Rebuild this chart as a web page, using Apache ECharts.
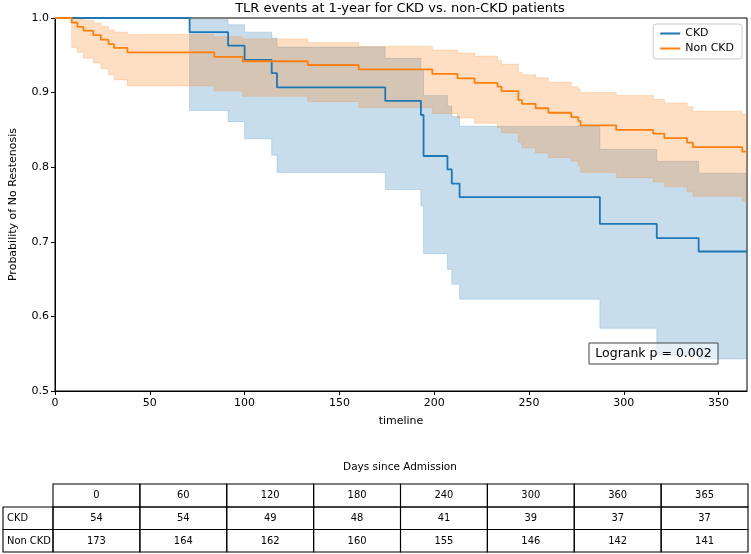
<!DOCTYPE html>
<html><head><meta charset="utf-8">
<script src="https://cdn.jsdelivr.net/npm/echarts@6/dist/echarts.min.js"></script>
<style>html,body{margin:0;padding:0;background:#fff}#c{width:751px;height:554px}</style>
</head><body><div id="c"></div>
<script>
// ---- data ----
const titleText = 'TLR events at 1-year for CKD vs. non-CKD patients';
const xTicks = [0, 50, 100, 150, 200, 250, 300, 350];
const yTicks = [0.5, 0.6, 0.7, 0.8, 0.9, 1.0];

const ckdTimes = [0, 71, 91.3, 100, 114.3, 117.1, 174.2, 193, 194.4, 207, 209.3, 213.4, 287.4, 317.4, 339.5, 365];
const ckdSurv  = [1, 0.981, 0.963, 0.944, 0.926, 0.907, 0.889, 0.870, 0.815, 0.797, 0.778, 0.760, 0.724, 0.705, 0.687, 0.687];
const ckdLower = [1, 0.876, 0.861, 0.838, 0.816, 0.793, 0.770, 0.748, 0.684, 0.663, 0.643, 0.623, 0.584, 0.548, 0.543, 0.543];
const ckdUpper = [1, 0.998, 0.991, 0.981, 0.973, 0.961, 0.946, 0.930, 0.896, 0.882, 0.868, 0.855, 0.824, 0.808, 0.792, 0.792];

const ncTimes = [0, 8.8, 11.8, 15, 20.2, 24.2, 28.2, 31.1, 38.2, 84, 99, 133.3, 160.2, 199, 212.3, 221.3, 233.4, 235.5, 244.4, 246.3, 253.5, 260.2, 272.3, 276, 277.2, 296, 315.5, 321.4, 333.4, 336.5, 362.5, 365];
const ncSurv  = [1, 0.994, 0.988, 0.983, 0.977, 0.971, 0.965, 0.960, 0.954, 0.948, 0.942, 0.937, 0.931, 0.925, 0.919, 0.913, 0.908, 0.902, 0.890, 0.885, 0.879, 0.873, 0.867, 0.862, 0.856, 0.850, 0.845, 0.839, 0.833, 0.827, 0.821, 0.821];
const ncUpper = [1, 0.999, 0.998, 0.997, 0.993, 0.989, 0.984, 0.981, 0.978, 0.975, 0.972, 0.967, 0.962, 0.957, 0.953, 0.949, 0.943, 0.938, 0.927, 0.924, 0.920, 0.914, 0.908, 0.904, 0.900, 0.896, 0.891, 0.886, 0.881, 0.875, 0.871, 0.871];
const ncLower = [1, 0.960, 0.954, 0.946, 0.940, 0.932, 0.924, 0.917, 0.909, 0.902, 0.895, 0.888, 0.880, 0.872, 0.866, 0.859, 0.853, 0.846, 0.833, 0.826, 0.819, 0.813, 0.808, 0.802, 0.793, 0.786, 0.780, 0.774, 0.767, 0.761, 0.754, 0.754];

const logrankText = 'Logrank p = 0.002';
const tableTitle = 'Days since Admission';
const tableDays = [0, 60, 120, 180, 240, 300, 360, 365];
const tableRowLabels = ['CKD', 'Non CKD'];
const ckdAtRisk = [54, 54, 49, 48, 41, 39, 37, 37];
const nonCkdAtRisk = [173, 164, 162, 160, 155, 146, 142, 141];

// ---- chart ----
const FONT = 'DejaVu Sans';
const TFONT = '"DejaVu Sans Condensed", "Liberation Sans Narrow", "DejaVu Sans"';
const BLUE = '#1f77b4', ORANGE = '#ff7f0e';
const chart = echarts.init(document.getElementById('c'), null, {renderer: 'canvas'});

function pairs(t, v) { return t.map((x, i) => [x, v[i]]); }

function bandSeries(name, times, lower, upper, color) {
  return {
    type: 'custom', name: name, coordinateSystem: 'cartesian2d', silent: true, clip: true,
    data: [[times[0], upper[0]]],
    encode: {x: 0, y: 1},
    renderItem: function (params, api) {
      const top = [], bot = [];
      for (let i = 0; i < times.length; i++) {
        top.push(api.coord([times[i], upper[i]]));
        bot.push(api.coord([times[i], lower[i]]));
        if (i < times.length - 1) {
          top.push(api.coord([times[i + 1], upper[i]]));
          bot.push(api.coord([times[i + 1], lower[i]]));
        }
      }
      return {type: 'polygon', shape: {points: top.concat(bot.reverse())},
        style: {fill: color, stroke: color, lineWidth: 0.8}};
    }
  };
}

function lineSeries(name, times, vals, color) {
  return {type: 'line', name: name, step: 'end', showSymbol: false, silent: true,
    data: pairs(times, vals), lineStyle: {color: color, width: 1.8}, itemStyle: {color: color}};
}

// table graphics
const tblLeft = 3, tblLabelRight = 53, tblRight = 748;
const rowTops = [484, 507, 529.5, 552];
const colW = (tblRight - tblLabelRight) / tableDays.length;
const tblGraphics = [];
const cellStroke = {fill: 'none', stroke: '#000', lineWidth: 1.1};
function cellText(txt, x, y, align, fam, size) {
  tblGraphics.push({type: 'text', x: x, y: y, silent: true,
    style: {text: String(txt), align: align, verticalAlign: 'middle', fontSize: size || 11, fontFamily: fam || TFONT, fill: '#000'}});
}
tableDays.forEach((d, j) => {
  const x = tblLabelRight + j * colW;
  tblGraphics.push({type: 'rect', silent: true, shape: {x: x, y: rowTops[0], width: colW, height: rowTops[1] - rowTops[0]}, style: cellStroke});
  cellText(d, x + colW / 2, (rowTops[0] + rowTops[1]) / 2, 'center');
});
[ckdAtRisk, nonCkdAtRisk].forEach((row, r) => {
  const y0 = rowTops[r + 1], y1 = rowTops[r + 2];
  tblGraphics.push({type: 'rect', silent: true, shape: {x: tblLeft, y: y0, width: tblLabelRight - tblLeft, height: y1 - y0}, style: cellStroke});
  cellText(tableRowLabels[r], tblLeft + 4, (y0 + y1) / 2, 'left');
  row.forEach((v, j) => {
    const x = tblLabelRight + j * colW;
    tblGraphics.push({type: 'rect', silent: true, shape: {x: x, y: y0, width: colW, height: y1 - y0}, style: cellStroke});
    cellText(v, x + colW / 2, (y0 + y1) / 2, 'center');
  });
});
cellText(tableTitle, 400, 467, 'center', FONT, 10.5);

const option = {
  animation: false,
  backgroundColor: '#fff',
  title: {text: titleText, left: 400, top: 2, padding: 0, textAlign: 'center',
    textStyle: {fontFamily: FONT, fontSize: 13, fontWeight: 'normal', color: '#000'}},
  legend: {data: ['CKD', 'Non CKD'], orient: 'vertical', right: 9, top: 24, icon: 'rect',
    itemWidth: 20, itemHeight: 2, itemGap: 4, padding: [4, 8, 5, 7], selectedMode: false,
    borderColor: '#ccc', borderWidth: 1, borderRadius: 3, backgroundColor: 'rgba(255,255,255,0.8)',
    textStyle: {fontFamily: FONT, fontSize: 11, color: '#000'}},
  grid: {left: 53, right: 4, top: 18, bottom: 163, show: true, borderColor: '#000', borderWidth: 1, backgroundColor: 'transparent'},
  xAxis: {type: 'value', min: 0, max: 365, interval: 50,
    name: 'timeline', nameLocation: 'middle', nameGap: 25,
    nameTextStyle: {fontFamily: FONT, fontSize: 11, color: '#000'},
    axisLine: {onZero: false, lineStyle: {color: '#000', width: 1}},
    axisTick: {length: 4, lineStyle: {color: '#000'}, customValues: xTicks},
    axisLabel: {fontFamily: FONT, fontSize: 11, color: '#000', margin: 7, customValues: xTicks},
    splitLine: {show: false}},
  yAxis: {type: 'value', min: 0.5, max: 1.0, interval: 0.1,
    name: 'Probability of No Restenosis', nameLocation: 'middle', nameGap: 36,
    nameTextStyle: {fontFamily: FONT, fontSize: 11, color: '#000'},
    axisLine: {onZero: false, lineStyle: {color: '#000', width: 1}},
    axisTick: {length: 4, lineStyle: {color: '#000'}, customValues: yTicks},
    axisLabel: {fontFamily: FONT, fontSize: 11, color: '#000', margin: 6, customValues: yTicks,
      formatter: v => Number(v).toFixed(1)},
    splitLine: {show: false}},
  series: [
    bandSeries('CKD band', ckdTimes, ckdLower, ckdUpper, 'rgba(31,119,180,0.25)'),
    lineSeries('CKD', ckdTimes, ckdSurv, BLUE),
    bandSeries('Non CKD band', ncTimes, ncLower, ncUpper, 'rgba(255,127,14,0.25)'),
    lineSeries('Non CKD', ncTimes, ncSurv, ORANGE)
  ],
  graphic: [
    {type: 'group', x: 589, y: 343, z: 100, silent: true, children: [
      {type: 'rect', z: 100, shape: {x: 0, y: 0, width: 129, height: 21}, style: {fill: 'rgba(255,255,255,0.5)', stroke: '#444', lineWidth: 1}},
      {type: 'text', z: 101, x: 64.5, y: 11, style: {text: logrankText, align: 'center', verticalAlign: 'middle', fontSize: 12.5, fontFamily: FONT, fill: '#000'}}
    ]}
  ].concat(tblGraphics)
};
chart.setOption(option);
</script>
</body></html>
